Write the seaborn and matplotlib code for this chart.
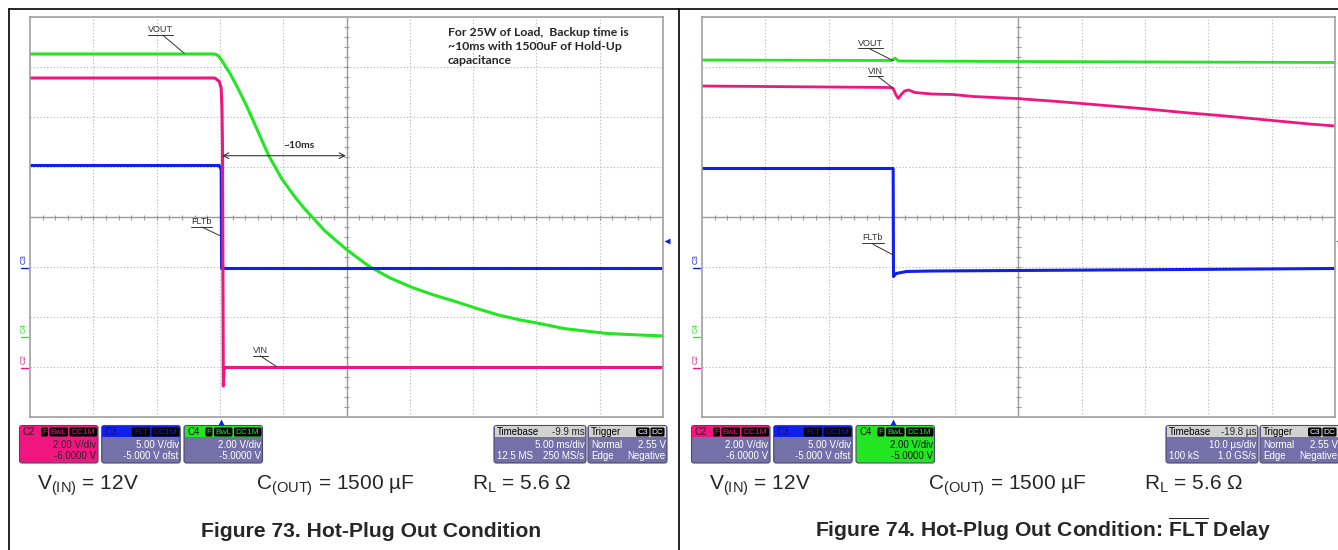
import numpy as np
import pandas as pd
import matplotlib
matplotlib.use('Agg')
import matplotlib.pyplot as plt
import seaborn as sns
from matplotlib.patches import FancyBboxPatch, Rectangle

# ---- trace data, in screen divisions (x: 0..10, y: 0..8) ----
# Figure 73: 5 ms/div
f73_vout_x = [0.0, 2.92, 2.97, 3.02, 3.16, 3.29, 3.43, 3.57, 3.77, 3.98, 4.18, 4.32, 4.66, 5.01, 5.35,
              5.69, 6.04, 6.38, 6.72, 7.06, 7.40, 7.75, 8.09, 8.43, 8.77, 9.12, 9.46, 10.0]
f73_vout_y = [7.26, 7.26, 7.23, 7.15, 6.87, 6.56, 6.20, 5.80, 5.23, 4.76, 4.41, 4.19, 3.72, 3.34, 3.02,
              2.78, 2.59, 2.44, 2.31, 2.17, 2.04, 1.94, 1.86, 1.77, 1.72, 1.67, 1.65, 1.62]
f73_vin_x = [0.0, 2.92, 2.99, 3.02, 3.033, 3.041, 3.054, 3.065, 3.088, 10.0]
f73_vin_y = [6.78, 6.78, 6.71, 6.58, 6.14, 5.41, 0.62, 0.94, 0.99, 0.99]
f73_flt_x = [0.0, 2.99, 3.02, 3.027, 10.0]
f73_flt_y = [5.03, 5.03, 4.95, 2.97, 2.97]

# Figure 74: 10 us/div
f74_vout_x = [0.0, 3.0, 3.05, 3.1, 5.0, 10.0]
f74_vout_y = [7.14, 7.13, 7.18, 7.12, 7.11, 7.09]
f74_vin_x = [0.0, 2.97, 3.02, 3.066, 3.10, 3.147, 3.20, 3.265, 3.365, 3.63, 3.96, 4.29, 4.96,
             5.62, 6.28, 6.94, 7.61, 8.27, 8.93, 9.60, 10.0]
f74_vin_y = [6.62, 6.59, 6.57, 6.44, 6.37, 6.45, 6.52, 6.54, 6.49, 6.46, 6.45, 6.41, 6.37,
             6.31, 6.24, 6.17, 6.09, 6.02, 5.94, 5.86, 5.82]
f74_flt_x = [0.0, 3.02, 3.025, 3.066, 3.23, 3.63, 4.96, 7.61, 10.0]
f74_flt_y = [4.97, 4.97, 2.81, 2.87, 2.91, 2.92, 2.93, 2.95, 2.97]

# ---- scope readouts ----
timebase = [('-9.9 ms', '5.00 ms/div', '12.5 MS', '250 MS/s'),
            ('-19.8 µs', '10.0 µs/div', '100 kS', '1.0 GS/s')]
ch_scale = ['2.00 V/div', '5.00 V/div', '2.00 V/div']
ch_offset = ['-6.0000 V', '-5.000 V ofst', '-5.0000 V']
titles = [r'Figure 73. Hot-Plug Out Condition',
          r'Figure 74. Hot-Plug Out Condition: $\overline{\mathbf{FLT}}$ Delay']

PINK = '#f0157f'
BLUE = '#1020e8'
GREEN = '#22e622'
BODY = '#7470a8'
GRID = '#b4b4b4'
CTR = '#9a9a9a'
W, H = 1338, 550

sns.set_style('white')
plt.rcParams['font.family'] = ['Liberation Sans', 'DejaVu Sans']
plt.rcParams['mathtext.fontset'] = 'custom'
plt.rcParams['mathtext.rm'] = 'Liberation Sans'
plt.rcParams['mathtext.bf'] = 'Liberation Sans:bold'
plt.rcParams['mathtext.it'] = 'Liberation Sans:italic'

fig = plt.figure(figsize=(W / 100, H / 100), dpi=100)


def graticule(ax):
    ax.set_xlim(0, 10)
    ax.set_ylim(0, 8)
    for v in range(1, 10):
        if v != 5:
            ax.axvline(v, color=GRID, lw=0.8, ls=(0, (1, 2)), zorder=0)
    for v in range(1, 8):
        if v != 4:
            ax.axhline(v, color=GRID, lw=0.8, ls=(0, (1, 2)), zorder=0)
    ax.axvline(5, color=CTR, lw=1.0, zorder=0)
    ax.axhline(4, color=CTR, lw=1.0, zorder=0)
    ax.vlines(np.arange(0.2, 10, 0.2), 3.95, 4.05, color=CTR, lw=0.8, zorder=0)
    ax.hlines(np.arange(0.2, 8, 0.2), 4.965, 5.035, color=CTR, lw=0.8, zorder=0)
    ax.set_xticks([])
    ax.set_yticks([])
    for s in ax.spines.values():
        s.set_color('#a0a0a0')
        s.set_linewidth(1.2)


def trace(ax, xs, ys, color, lw=2.2):
    df = pd.DataFrame({'t': xs, 'v': ys})
    sns.lineplot(data=df, x='t', y='v', ax=ax, color=color, lw=lw,
                 estimator=None, sort=False, legend=False)
    ax.set_xlabel('')
    ax.set_ylabel('')


ax1 = fig.add_axes([30 / W, 1 - 417 / H, 633 / W, 400 / H])
ax2 = fig.add_axes([702 / W, 1 - 417 / H, 633 / W, 400 / H])
for ax in (ax1, ax2):
    graticule(ax)

trace(ax1, f73_vout_x, f73_vout_y, GREEN)
trace(ax1, f73_flt_x, f73_flt_y, BLUE)
trace(ax1, f73_vin_x, f73_vin_y, PINK)
trace(ax2, f74_vout_x, f74_vout_y, GREEN, 2.0)
trace(ax2, f74_vin_x, f74_vin_y, PINK, 2.0)
trace(ax2, f74_flt_x, f74_flt_y, BLUE)

# overlay in pixel coordinates for frame, readouts and notes
ov = fig.add_axes([0, 0, 1, 1])
ov.set_xlim(0, W)
ov.set_ylim(H, 0)
ov.axis('off')

ov.plot([8.5, W], [8.5, 8.5], color='black', lw=1.2)
ov.plot([8.5, 8.5], [8.5, H], color='black', lw=1.2)
ov.plot([679, 679], [8.5, H], color='black', lw=1.2)


def badge(x0, x1, y, txt, col):
    ov.add_patch(FancyBboxPatch((x0, y + 2), x1 - x0, 9, boxstyle='round,pad=0,rounding_size=1.5',
                                fc='black', ec='none'))
    ov.text((x0 + x1) / 2, y + 6.8, txt, color=col, fontsize=6, ha='center', va='center')


def readout(x, w, head, body, name, name_col):
    y, h = 425.5, 37.5
    ov.add_patch(FancyBboxPatch((x, y), w, h, boxstyle='round,pad=0,rounding_size=2.5',
                                fc=body, ec='#4a4870', lw=0.8))
    ov.add_patch(Rectangle((x + 0.6, y + 0.6), w - 1.2, 11.2, fc=head, ec='none'))
    ov.text(x + 3, y + 6.5, name, color=name_col, fontsize=7, va='center')
    return y


def chan(x, name, head, body, name_col, badges, bcol, scale, offset, vcol):
    y = readout(x, 78.5, head, body, name, name_col)
    for txt, a, b in badges:
        badge(x + a, x + b, y, txt, bcol)
    ov.text(x + 77, y + 19.5, scale, color=vcol, fontsize=7, ha='right', va='center')
    ov.text(x + 77, y + 30.5, offset, color=vcol, fontsize=7, ha='right', va='center')


def panel(dx, k):
    bw = [('F', 21.5, 28.5), ('BwL', 30, 48.5), ('DC1M', 50, 77.5)]
    if k == 0:
        chan(19.5 + dx, 'C2', PINK, PINK, '#222222', bw, PINK, ch_scale[0], ch_offset[0], '#2a2a2a')
    else:
        chan(19.5 + dx, 'C2', PINK, BODY, '#222222', bw, PINK, ch_scale[0], ch_offset[0], 'white')
    chan(101.7 + dx, 'C3', BLUE, BODY, '#0a0a90', [('FLT', 30, 48.5), ('DC1M', 50, 77.5)],
         BLUE, ch_scale[1], ch_offset[1], 'white')
    if k == 0:
        chan(184 + dx, 'C4', GREEN, BODY, '#111111', bw, GREEN, ch_scale[2], ch_offset[2], 'white')
    else:
        chan(184 + dx, 'C4', GREEN, GREEN, '#111111', bw, GREEN, ch_scale[2], ch_offset[2], '#111111')

    tb = timebase[k]
    x = 494 + dx
    y = readout(x, 92, '#d2d2d2', BODY, 'Timebase', 'black')
    ov.text(x + 90.5, y + 6.5, tb[0], fontsize=7, ha='right', va='center')
    ov.text(x + 90.5, y + 19.5, tb[1], fontsize=7, ha='right', va='center', color='white')
    ov.text(x + 3, y + 30.5, tb[2], fontsize=7, va='center', color='white')
    ov.text(x + 90.5, y + 30.5, tb[3], fontsize=7, ha='right', va='center', color='white')

    x = 588 + dx
    y = readout(x, 79, '#d2d2d2', BODY, 'Trigger', 'black')
    badge(x + 48, x + 61.5, y, 'C3', 'white')
    badge(x + 62.5, x + 76.5, y, 'DC', 'white')
    ov.text(x + 3, y + 19.5, 'Normal', fontsize=7, va='center', color='white')
    ov.text(x + 77.5, y + 19.5, '2.55 V', fontsize=7, ha='right', va='center', color='white')
    ov.text(x + 3, y + 30.5, 'Edge', fontsize=7, va='center', color='white')
    ov.text(x + 77.5, y + 30.5, 'Negative', fontsize=7, ha='right', va='center', color='white')

    # trigger position / level markers
    ov.plot(221 + dx, 421.5, marker='^', ms=5, color=BLUE, mec='none')
    ov.plot(667 + dx, 241, marker='<', ms=5, color=BLUE, mec='none', clip_on=False)

    # channel ground markers
    for name, gy, col in [('C3', 268, BLUE), ('C4', 337, GREEN), ('C2', 368, PINK)]:
        ov.text(24 + dx, gy - 4, name, color=col, fontsize=5.5, rotation=90,
                ha='center', va='bottom')
        ov.plot([21 + dx, 28 + dx], [gy, gy], color=col, lw=1.0)

    # conditions line
    ov.text(37 + dx, 490, r'$\mathregular{V_{(IN)}}$ = 12V', fontsize=15, va='baseline')
    ov.text(256 + dx, 490, r'$\mathregular{C_{(OUT)}}$ = 1500 µF', fontsize=15, va='baseline')
    ov.text(472 + dx, 490, r'$\mathregular{R_L}$ = 5.6 Ω', fontsize=15, va='baseline')
    ov.text(371 + dx, 537, titles[k], fontsize=15.2, fontweight='bold', ha='center', va='baseline')


def label(txt, x0, x1, ty, lx0, ly0, lx1, ly1):
    ov.text((x0 + x1) / 2, ty, txt, fontsize=6.5, color='#333333', ha='center', va='center')
    ov.plot([x0, x1], [ty + 5, ty + 5], color='#333333', lw=0.7)
    ov.plot([lx0, lx1], [ly0, ly1], color='#333333', lw=0.7)


panel(0, 0)
panel(672, 1)

label('VOUT', 148, 173, 30, 162.6, 35, 184.3, 53.3)
label('FLTb', 190.5, 211.5, 221.5, 201.7, 227, 220.7, 236)
label('VIN', 252.5, 267.5, 350.5, 260, 355.7, 276.7, 366.7)
label('VOUT', 857.5, 882.7, 43, 870, 49, 893.3, 60.7)
label('VIN', 867.5, 882.7, 71, 878.3, 76.7, 893.3, 88.3)
label('FLTb', 861.7, 883.5, 237.5, 873, 244.3, 893.2, 255)

ov.text(448, 27.5, 'For 25W of Load,  Backup time is\n~10ms with 1500uF of Hold-Up\ncapacitance',
        family='Lato', fontweight='bold', fontsize=8.8, va='top', ha='left', linespacing=1.3)
ov.text(299.5, 145, '~10ms', family='Lato', fontweight='bold', fontsize=7.5, ha='center', va='center')
ov.annotate('', xy=(222, 155.7), xytext=(346, 155.7),
            arrowprops=dict(arrowstyle='<->', lw=0.8, color='#333333', shrinkA=0, shrinkB=0))

fig.savefig('out.png', dpi=100)
